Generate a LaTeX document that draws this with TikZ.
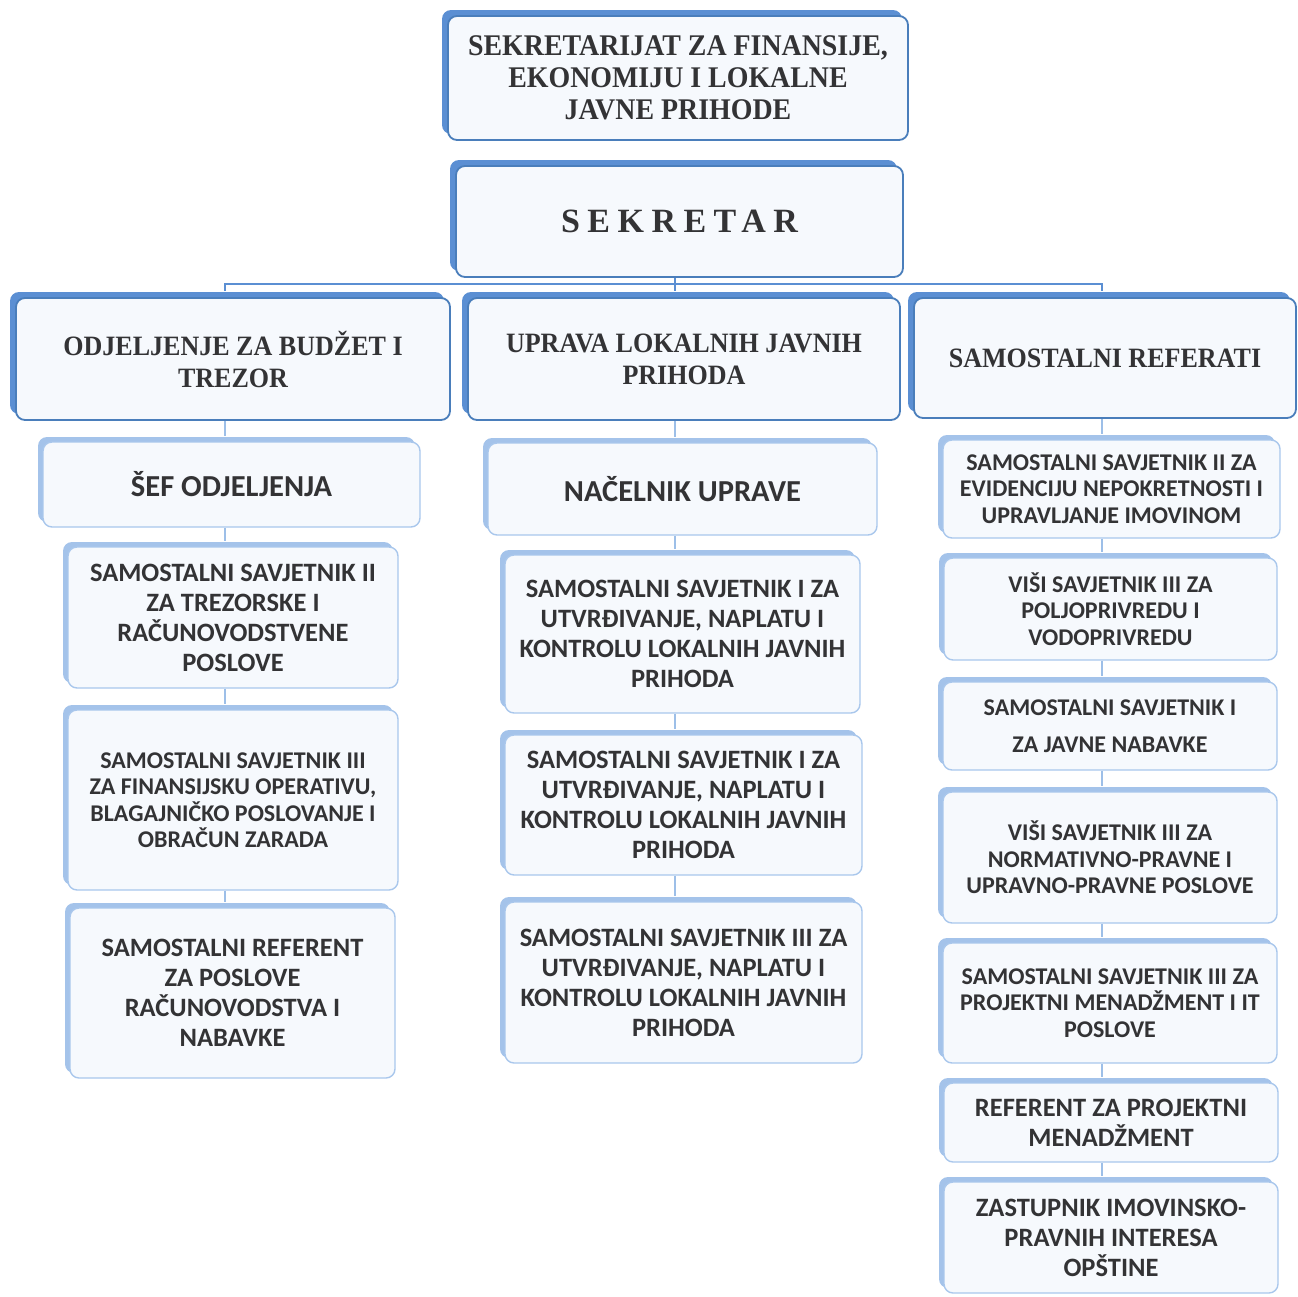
\documentclass[tikz,border=0pt]{standalone}
\usepackage{fontspec}
\setmainfont{Liberation Serif}
\newfontfamily\calib{Carlito}
\usetikzlibrary{shadows}

\definecolor{unitline}{HTML}{4A7EBB}
\definecolor{unitshade}{HTML}{5B8FD3}
\definecolor{postline}{HTML}{A9C7EC}
\definecolor{postshade}{HTML}{A4C3EA}
\definecolor{boxfill}{HTML}{F6F9FD}
\definecolor{ink}{HTML}{333335}
\definecolor{linkline}{HTML}{9DBFE8}

\begin{document}
\begin{tikzpicture}[x=1pt,y=-1pt]

\tikzset{
	unit/.style={
		draw=unitline,
		line width=1.8pt,
		rounded corners=9pt,
		fill=boxfill,
		inner sep=0pt,
		align=center,
		text=ink,
		font=\bfseries\addfontfeature{FakeStretch=0.93}\fontsize{30}{32}\selectfont,
		drop shadow={shadow xshift=-6pt, shadow yshift=6pt, fill=unitshade, opacity=1}},
	dept/.style={
		unit,
		minimum height=122,
		font=\bfseries\addfontfeature{FakeStretch=0.93}\fontsize{28}{32}\selectfont},
	post/.style={
		draw=postline,
		line width=1.4pt,
		rounded corners=9pt,
		fill=boxfill,
		inner sep=0pt,
		align=center,
		text=ink,
		font=\calib\bfseries\fontsize{26.5}{30}\selectfont,
		drop shadow={shadow xshift=-5pt, shadow yshift=5pt, fill=postshade, opacity=1}},
	postsm/.style={
		post,
		font=\calib\bfseries\fontsize{24}{26.5}\selectfont},
	postbig/.style={
		post,
		font=\calib\bfseries\fontsize{30.5}{34}\selectfont},
	bus/.style={
		draw=unitshade,
		line width=2.2pt},
	link/.style={
		draw=linkline,
		line width=2pt}
}

\useasboundingbox (0,0) rectangle (1298,1296);

% heads
\node[unit,minimum width=460,minimum height=124] (sekr) at (678,78)
{SEKRETARIJAT ZA FINANSIJE,\\EKONOMIJU I LOKALNE\\JAVNE PRIHODE};

\node[unit,minimum width=447,minimum height=111,
  font=\bfseries\fontsize{34}{36}\selectfont\addfontfeature{LetterSpace=22}] (sec) at (679.5,221.5)
{SEKRETAR};

% departments
\node[dept,minimum width=434] (budz) at (233,359) {ODJELJENJE ZA BUDŽET I\\TREZOR};
\node[dept,minimum width=432] (upr) at (684,359) {UPRAVA LOKALNIH JAVNIH\\PRIHODA};
\node[dept,minimum width=382,minimum height=120] (refs) at (1105,358) {SAMOSTALNI REFERATI};

\coordinate (bus) at (675,284);
\coordinate (colL) at (225,0);
\coordinate (colM) at (675,0);
\coordinate (colR) at (1102,0);

\draw[bus] (sec.south -| bus) -- (bus);
\draw[bus] ([yshift=6pt]budz.north -| colL) |- (bus) -| ([yshift=6pt]refs.north -| colR);
\draw[bus] (bus) -- ([yshift=6pt]upr.north -| bus);

% left column
\node[postbig,minimum width=377,minimum height=85] (sef) at (231.5,484.5) {ŠEF ODJELJENJA};
\node[post,minimum width=330,minimum height=141] (trez) at (233,617.5)
{SAMOSTALNI SAVJETNIK II\\ZA TREZORSKE I\\RAČUNOVODSTVENE\\POSLOVE};
\node[postsm,minimum width=330,minimum height=180] (fin) at (233,800)
{SAMOSTALNI SAVJETNIK III\\ZA FINANSIJSKU OPERATIVU,\\BLAGAJNIČKO POSLOVANJE I\\OBRAČUN ZARADA};
\node[post,minimum width=325,minimum height=170] (racun) at (232.5,993)
{SAMOSTALNI REFERENT\\ZA POSLOVE\\RAČUNOVODSTVA I\\NABAVKE};

% middle column
\node[postbig,minimum width=389,minimum height=92] (nac) at (682.5,489) {NAČELNIK UPRAVE};
\node[post,minimum width=355,minimum height=158] (utvA) at (682.5,634)
{SAMOSTALNI SAVJETNIK I ZA\\UTVRĐIVANJE, NAPLATU I\\KONTROLU LOKALNIH JAVNIH\\PRIHODA};
\node[post,minimum width=357,minimum height=140] (utvB) at (683.5,805)
{SAMOSTALNI SAVJETNIK I ZA\\UTVRĐIVANJE, NAPLATU I\\KONTROLU LOKALNIH JAVNIH\\PRIHODA};
\node[post,minimum width=357,minimum height=161] (utvC) at (683.5,982.5)
{SAMOSTALNI SAVJETNIK III ZA\\UTVRĐIVANJE, NAPLATU I\\KONTROLU LOKALNIH JAVNIH\\PRIHODA};

% right column
\node[postsm,minimum width=337,minimum height=98] (evid) at (1111.5,489)
{SAMOSTALNI SAVJETNIK II ZA\\EVIDENCIJU NEPOKRETNOSTI I\\UPRAVLJANJE IMOVINOM};
\node[postsm,minimum width=333,minimum height=102] (poljo) at (1110.5,609)
{VIŠI SAVJETNIK III ZA\\POLJOPRIVREDU I\\VODOPRIVREDU};
\node[postsm,minimum width=334,minimum height=88] (nabav) at (1110,726)
{SAMOSTALNI SAVJETNIK I\\[10pt]ZA JAVNE NABAVKE};
\node[postsm,minimum width=334,minimum height=131] (norm) at (1110,857.5)
{VIŠI SAVJETNIK III ZA\\NORMATIVNO-PRAVNE I\\UPRAVNO-PRAVNE POSLOVE};
\node[postsm,minimum width=334,minimum height=120] (itp) at (1110,1003)
{SAMOSTALNI SAVJETNIK III ZA\\PROJEKTNI MENADŽMENT I IT\\POSLOVE};
\node[post,minimum width=334,minimum height=79] (menad) at (1111,1122.5)
{REFERENT ZA PROJEKTNI\\MENADŽMENT};
\node[post,minimum width=334,minimum height=111] (zast) at (1111,1237.5)
{ZASTUPNIK IMOVINSKO-\\PRAVNIH INTERESA\\OPŠTINE};

% links
\foreach \a/\b in {budz/sef,sef/trez,trez/fin,fin/racun}
  \draw[link] (\a.south -| colL) -- ([yshift=5pt]\b.north -| colL);
\foreach \a/\b in {upr/nac,nac/utvA,utvA/utvB,utvB/utvC}
  \draw[link] (\a.south -| colM) -- ([yshift=5pt]\b.north -| colM);
\foreach \a/\b in {refs/evid,evid/poljo,poljo/nabav,nabav/norm,norm/itp,itp/menad,menad/zast}
  \draw[link] (\a.south -| colR) -- ([yshift=5pt]\b.north -| colR);

\end{tikzpicture}
\end{document}
